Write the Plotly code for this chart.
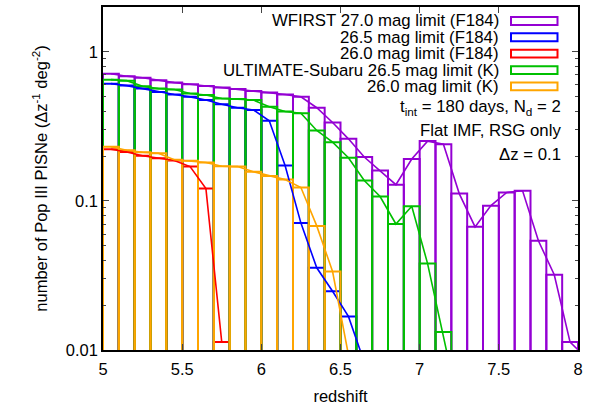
import plotly.graph_objects as go

# bin centres (delta z = 0.1)
z_bins = [5.05, 5.15, 5.25, 5.35, 5.45, 5.55, 5.65, 5.75, 5.85, 5.95,
          6.05, 6.15, 6.25, 6.35, 6.45, 6.55, 6.65, 6.75, 6.85, 6.95,
          7.05, 7.15, 7.25, 7.35, 7.45, 7.55, 7.65, 7.75, 7.85, 7.95, 8.05]

wfirst_270 = [0.713, 0.687, 0.671, 0.644, 0.622, 0.606, 0.590, 0.576, 0.564, 0.547,
              0.534, 0.518, 0.499, 0.422, 0.336, 0.261, 0.197, 0.160, 0.1285, 0.191,
              0.252, 0.240, 0.112, 0.067, 0.093, 0.114, 0.117, 0.054, 0.032, 0.0113, 0.0089]
wfirst_265 = [0.612, 0.594, 0.567, 0.539, 0.518, 0.499, 0.475, 0.445, 0.422, 0.408,
              0.345, 0.173, 0.071, 0.0356, 0.0248, 0.0168, 0.0083]
wfirst_260 = [0.222, 0.213, 0.201, 0.193, 0.187, 0.170, 0.121, 0.0113]
ultimate_265 = [0.651, 0.641, 0.588, 0.567, 0.559, 0.526, 0.513, 0.487, 0.482, 0.475,
                0.429, 0.398, 0.388, 0.297, 0.248, 0.195, 0.137, 0.107, 0.070, 0.092,
                0.038, 0.0132, 0.004]
ultimate_260 = [0.231, 0.219, 0.212, 0.209, 0.189, 0.186, 0.181, 0.171, 0.170, 0.157,
                0.147, 0.139, 0.123, 0.068, 0.0336, 0.0093]

labels = ["WFIRST 27.0 mag limit (F184)", "26.5 mag limit (F184)", "26.0 mag limit (F184)",
          "ULTIMATE-Subaru 26.5 mag limit (K)", "26.0 mag limit (K)"]
series = [wfirst_270, wfirst_265, wfirst_260, ultimate_265, ultimate_260]
colors = ["#9400d3", "#0000ff", "#ff0000", "#00c000", "#ffa500"]

y_tickvals = [0.01, 0.1, 1]
y_ticktext = ["0.01", "0.1", "1"]
y_minor = [m * d for d in (0.01, 0.1, 1) for m in range(2, 10) if m * d <= 2.0]

FONT = "Liberation Sans, Arial, Helvetica, sans-serif"
TXT = 16.8

fig = go.Figure()
for vals, col in zip(series, colors):
    fig.add_trace(go.Bar(x=z_bins[:len(vals)], y=vals, width=0.1,
                         marker=dict(color="rgba(0,0,0,0)", line=dict(color=col, width=2)),
                         showlegend=False, hoverinfo="skip"))
for vals, col in zip(series, colors):
    fig.add_trace(go.Scatter(x=z_bins[:len(vals)], y=vals, mode="lines",
                             line=dict(color=col, width=1.6), showlegend=False))

# manual gnuplot-style legend (text right, sample box on the right)
L, R, T, B = 103, 14, 5, 54
W, H = 592 - L - R, 408 - T - B
def px(xp):
    return (xp - L) / W
def py(yp):
    return (408 - B - yp) / H

row_y = [19.2, 35.8, 52.5, 69.2, 85.8]
for lab, col, yy in zip(labels, colors, row_y):
    fig.add_annotation(x=px(500.5), y=py(yy), xref="paper", yref="paper", text=lab,
                       showarrow=False, xanchor="right", yanchor="middle",
                       font=dict(size=TXT, color="black", family=FONT))
    fig.add_shape(type="rect", xref="paper", yref="paper",
                  x0=px(511), x1=px(557.5), y0=py(yy + 4), y1=py(yy - 4),
                  line=dict(color=col, width=2), fillcolor="rgba(0,0,0,0)")

notes = [("t<sub>int</sub> = 180 days, N<sub>d</sub> = 2", 107),
         ("Flat IMF, RSG only", 131),
         ("Δz = 0.1", 155)]
for txt, yy in notes:
    fig.add_annotation(x=px(562.5), y=py(yy), xref="paper", yref="paper", text=txt,
                       showarrow=False, xanchor="right", yanchor="middle",
                       font=dict(size=TXT, color="black", family=FONT))

fig.update_layout(
    width=592, height=408,
    margin=dict(l=L, r=R, t=T, b=B),
    paper_bgcolor="white", plot_bgcolor="white",
    barmode="overlay",
    font=dict(family=FONT, size=16, color="black"),
    showlegend=False,
    xaxis=dict(range=[5, 8], dtick=0.5, tick0=5, ticks="inside", ticklen=6, tickwidth=1.2,
               showline=True, linecolor="black", linewidth=1.5, mirror="allticks",
               showgrid=False, zeroline=False, tickfont=dict(size=16.5),
               ticklabelstandoff=3,
               title=dict(text="redshift", font=dict(size=16.5), standoff=14)),
    yaxis=dict(type="log", range=[-2, 0.301], tickvals=y_tickvals, ticktext=y_ticktext,
               ticks="inside", ticklen=6, tickwidth=1.2,
               minor=dict(tickvals=y_minor, ticks="inside", ticklen=3, tickwidth=1, showgrid=False),
               showline=True, linecolor="black", linewidth=1.5, mirror="allticks",
               showgrid=False, zeroline=False, tickfont=dict(size=16.5),
               title=dict(text="number of Pop III PISNe (Δz<sup>-1</sup> deg<sup>-2</sup>)",
                          font=dict(size=16.5), standoff=14)),
)

fig.write_html("out.html", config={"displayModeBar": False},
               post_script="document.body.style.margin='0px';document.body.style.overflow='hidden';")
